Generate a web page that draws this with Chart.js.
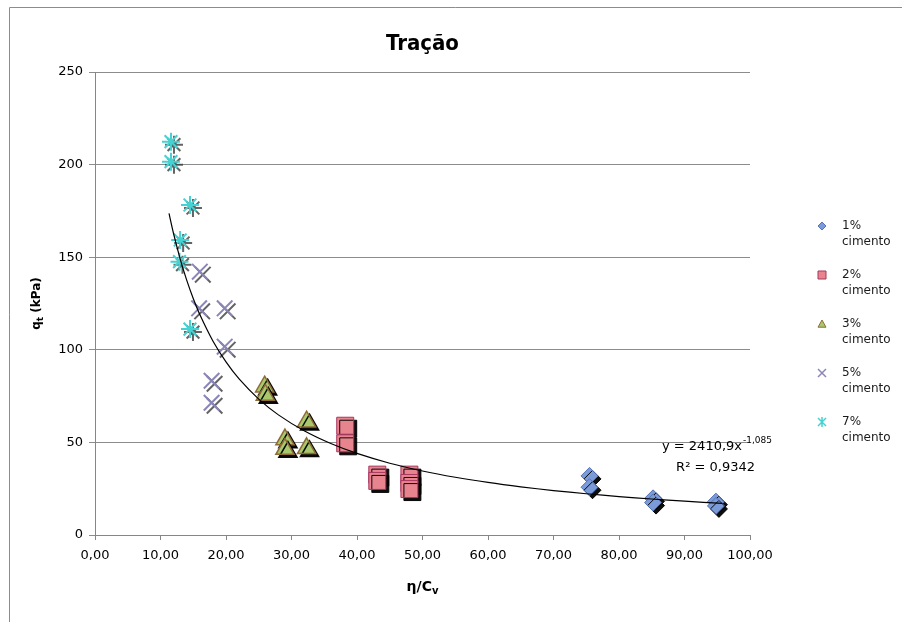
<!DOCTYPE html>
<html>
<head>
<meta charset="utf-8">
<script src="https://cdn.jsdelivr.net/npm/chart.js@4"></script>
<style>
  html, body { margin: 0; padding: 0; background: #fff; }
</style>
</head>
<body>
<canvas id="scatter" width="902" height="622"></canvas>
<script>
// values (eta/Cv , qt in kPa)
const cim1X = [75.5, 75.5, 85.2, 85.2, 94.8, 94.8];
const cim1Y = [31.9, 25.8, 19.8, 17.5, 18.0, 15.7];

const cim2X = [38.2, 38.2, 43.1, 43.1, 48.0, 48.0, 48.0];
const cim2Y = [59.0, 49.5, 32.6, 29.2, 32.6, 28.1, 24.8];

const cim3X = [25.9, 26.0, 32.3, 29.0, 29.0, 32.3];
const cim3Y = [80.1, 75.6, 61.2, 51.5, 46.4, 46.8];

const cim5X = [16.0, 15.9, 19.8, 19.8, 17.8, 17.8];
const cim5Y = [142.2, 122.4, 122.4, 101.7, 83.3, 71.4];

const cim7X = [11.6, 11.6, 14.5, 13.0, 12.9, 14.5];
const cim7Y = [212.4, 201.6, 178.2, 159.3, 147.6, 111.2];

const legendLabels = ["1%", "2%", "3%", "5%", "7%"];
const xTicks = [0, 10, 20, 30, 40, 50, 60, 70, 80, 90, 100];
const yTicks = [0, 50, 100, 150, 200, 250];

// power trendline shown on the chart: y = 2410,9 x^-1,085
const trendA = 2410.9;
const trendB = -1.085;
const trendX = [11.3, 12, 13, 14, 15, 16, 18, 20, 22, 25, 28, 32, 36, 40, 45, 50, 55, 60, 65, 70, 75, 80, 85, 90, 95.8];

const pts = (xs, ys) => xs.map((x, i) => ({ x: x, y: ys[i] }));

const styles = [
  { style: "rectRot",  fill: "#7b9ad8", line: "#5573b8", r: 8.5, bw: 1,   shadow: "rgba(0,0,0,0.95)" },
  { style: "rect",     fill: "#e8848e", line: "#a83660", r: 12,  bw: 1,   shadow: "rgba(0,0,0,0.95)" },
  { style: "triangle", fill: "#a8c86c", line: "#8e6c38", r: 10.5, bw: 1.5, shadow: "rgba(0,0,0,0.95)" },
  { style: "crossRot", fill: "#8a86b8", line: "#8a86b8", r: 11,  bw: 2,   shadow: "rgba(60,60,60,0.8)" },
  { style: "star",     fill: "#44d2d2", line: "#44d2d2", r: 9,   bw: 2,   shadow: "rgba(60,60,60,0.8)" }
];

const seriesData = [pts(cim1X, cim1Y), pts(cim2X, cim2Y), pts(cim3X, cim3Y), pts(cim5X, cim5Y), pts(cim7X, cim7Y)];

const datasets = seriesData.map((d, i) => ({
  label: legendLabels[i] + " cimento",
  data: d,
  pointStyle: styles[i].style,
  pointRadius: styles[i].r,
  pointBorderWidth: styles[i].bw,
  backgroundColor: styles[i].fill,
  borderColor: styles[i].line,
  shadow: styles[i].shadow,
  showLine: false,
  order: 1
}));

datasets.push({
  label: "trend",
  data: trendX.map(x => ({ x: x, y: trendA * Math.pow(x, trendB) })),
  showLine: true,
  borderColor: "#000",
  borderWidth: 1.2,
  pointRadius: 0,
  tension: 0.3,
  order: 0
});

const FONT = "'DejaVu Sans', sans-serif";

const shadowPlugin = {
  id: "shadow",
  beforeDatasetDraw(chart, args) {
    const ds = chart.data.datasets[args.index];
    if (!ds.shadow) return;
    const ctx = chart.ctx;
    ctx.save();
    ctx.shadowColor = ds.shadow;
    ctx.shadowOffsetX = 3;
    ctx.shadowOffsetY = 3;
    ctx.shadowBlur = 0;
  },
  afterDatasetDraw(chart, args) {
    if (chart.data.datasets[args.index].shadow) chart.ctx.restore();
  }
};

function marker(ctx, s, x, y, r) {
  ctx.save();
  ctx.fillStyle = s.fill;
  ctx.strokeStyle = s.line;
  ctx.lineWidth = s.style.indexOf("cross") === 0 || s.style === "star" ? 1.5 : 1;
  ctx.beginPath();
  if (s.style === "rectRot") {
    ctx.moveTo(x, y - r); ctx.lineTo(x + r, y); ctx.lineTo(x, y + r); ctx.lineTo(x - r, y); ctx.closePath();
    ctx.fill(); ctx.stroke();
  } else if (s.style === "rect") {
    ctx.rect(x - r, y - r, 2 * r, 2 * r); ctx.fill(); ctx.stroke();
  } else if (s.style === "triangle") {
    ctx.moveTo(x, y - r); ctx.lineTo(x + r, y + r * 0.8); ctx.lineTo(x - r, y + r * 0.8); ctx.closePath();
    ctx.fill(); ctx.stroke();
  } else {
    ctx.moveTo(x - r, y - r); ctx.lineTo(x + r, y + r);
    ctx.moveTo(x + r, y - r); ctx.lineTo(x - r, y + r);
    if (s.style === "star") { ctx.moveTo(x, y - r - 1); ctx.lineTo(x, y + r + 1); }
    ctx.stroke();
  }
  ctx.restore();
}

const decorPlugin = {
  id: "decor",
  afterDraw(chart) {
    const ctx = chart.ctx;
    const area = chart.chartArea;
    ctx.save();

    // outer frame (top and left edge of the original chart box)
    ctx.strokeStyle = "#8c8c8c";
    ctx.lineWidth = 1;
    ctx.beginPath();
    ctx.moveTo(9.5, 622); ctx.lineTo(9.5, 7.5); ctx.lineTo(902, 7.5);
    ctx.stroke();

    ctx.fillStyle = "#000";
    // title
    ctx.font = "bold 22px 'DejaVu Sans Condensed', Roboto, sans-serif";
    ctx.textAlign = "center";
    ctx.textBaseline = "middle";
    ctx.fillText("Tração", (area.left + area.right) / 2, 44);

    // x axis title  η/Cv
    ctx.textAlign = "left";
    const cx = (area.left + area.right) / 2;
    const main = "η/C";
    ctx.font = "bold 14px " + FONT;
    const w1 = ctx.measureText(main).width;
    ctx.font = "bold 10px " + FONT;
    const w2 = ctx.measureText("v").width;
    const sx = cx - (w1 + w2) / 2;
    ctx.font = "bold 14px " + FONT;
    ctx.fillText(main, sx, 587);
    ctx.font = "bold 10px " + FONT;
    ctx.fillText("v", sx + w1, 591);

    // y axis title  qt (kPa), rotated
    ctx.save();
    ctx.translate(37, (area.top + area.bottom) / 2);
    ctx.rotate(-Math.PI / 2);
    ctx.font = "bold 12px " + FONT;
    const a = ctx.measureText("q").width;
    ctx.font = "bold 9px " + FONT;
    const b = ctx.measureText("t").width;
    ctx.font = "bold 12px " + FONT;
    const c = ctx.measureText(" (kPa)").width;
    let px = -(a + b + c) / 2;
    ctx.fillText("q", px, 0);
    ctx.font = "bold 9px " + FONT;
    ctx.fillText("t", px + a, 4);
    ctx.font = "bold 12px " + FONT;
    ctx.fillText(" (kPa)", px + a + b, 0);
    ctx.restore();

    // trendline equation
    ctx.font = "13px " + FONT;
    ctx.textAlign = "left";
    ctx.fillStyle = "#000";
    const eq = "y = 2410,9x";
    ctx.fillText(eq, 662, 447);
    const we = ctx.measureText(eq).width;
    ctx.font = "9px " + FONT;
    ctx.fillText("-1,085", 662 + we + 1, 441);
    ctx.font = "13px " + FONT;
    ctx.textAlign = "right";
    ctx.fillText("R² = 0,9342", 755, 468);

    // legend
    const ly = [226, 275, 324, 373, 422];
    ctx.textAlign = "left";
    ctx.font = "12px " + FONT;
    legendLabels.forEach((lab, i) => {
      marker(ctx, styles[i], 822, ly[i], 4);
      ctx.fillStyle = "#1a1a1a";
      ctx.fillText(lab, 842, ly[i]);
      ctx.fillText("cimento", 842, ly[i] + 16);
    });

    ctx.restore();
  }
};

new Chart(document.getElementById("scatter"), {
  type: "scatter",
  data: { datasets: datasets },
  options: {
    responsive: false,
    animation: false,
    events: [],
    layout: { padding: { top: 72, right: 152, left: 0, bottom: 0 } },
    plugins: {
      legend: { display: false },
      title: { display: false },
      tooltip: { enabled: false }
    },
    scales: {
      x: {
        type: "linear",
        position: "bottom",
        min: 0,
        max: 100,
        afterFit: s => { s.height = 87; },
        afterBuildTicks: s => { s.ticks = xTicks.map(v => ({ value: v })); },
        ticks: {
          color: "#000",
          font: { family: "DejaVu Sans", size: 13 },
          padding: 8,
          maxRotation: 0,
          callback: v => v.toFixed(2).replace(".", ",")
        },
        grid: { drawOnChartArea: false, drawTicks: true, tickLength: 5, color: "#868686" },
        border: { color: "#868686", width: 1 }
      },
      y: {
        min: 0,
        max: 250,
        afterFit: s => { s.width = 95; },
        afterBuildTicks: s => { s.ticks = yTicks.map(v => ({ value: v })); },
        ticks: {
          color: "#000",
          font: { family: "DejaVu Sans", size: 13 },
          padding: 6
        },
        grid: { color: "#8c8c8c", tickLength: 6, lineWidth: 1 },
        border: { color: "#868686", width: 1 }
      }
    }
  },
  plugins: [shadowPlugin, decorPlugin]
});
</script>
</body>
</html>
